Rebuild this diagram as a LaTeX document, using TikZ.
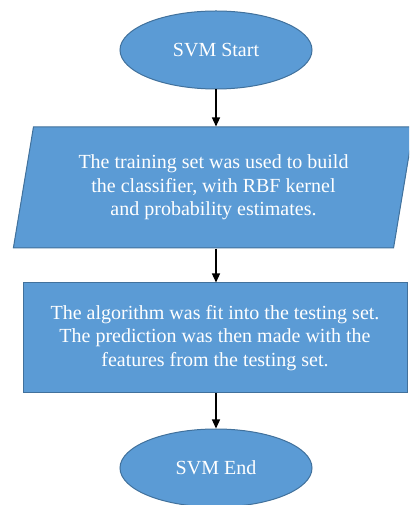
\documentclass[tikz,border=0pt]{standalone}
\usepackage{fontspec}
\setmainfont{Liberation Serif}
\usepackage{tikz}
\usetikzlibrary{positioning,calc,arrows.meta,shapes.geometric}
\definecolor{svmfill}{HTML}{5B9BD5}
\definecolor{svmline}{HTML}{41719C}
\tikzset{
  figfont/.style={font=\fontsize{20}{23.5}\selectfont, text=white},
  figbox/.style={draw=svmline, fill=svmfill, line width=1pt, align=center, inner sep=0pt},
  figoval/.style={figbox, ellipse, minimum width=192pt, minimum height=78pt},
  figslant/.style={figbox, trapezium, trapezium left angle=77, trapezium right angle=103,
    trapezium stretches=true, minimum width=401pt, minimum height=121pt},
  figrect/.style={figbox, rectangle, minimum width=384pt, minimum height=110pt},
  figarrow/.style={-{Triangle[length=9pt,width=8pt]}, line width=1.3pt, black},
}
\begin{document}
\begin{tikzpicture}[x=1pt,y=1pt,figfont]
  \useasboundingbox (0,0) rectangle (409,505);
  \clip (0,0) rectangle (409,505);
  % start / end ovals
  \node[figoval] (start) at (216,455) {SVM Start};
  \node[figoval] (end) at (216,37) {SVM End};

  % training step
  \node[figslant] (train) at (213.5,317.5)
    {The training set was used to build\\ the classifier, with RBF kernel\\ and probability estimates.};

  % testing step
  \node[figrect] (test) at (215,167)
    {The algorithm was fit into the testing set.\\ The prediction was then made with the\\ features from the testing set.};

  % connectors
  \draw[figarrow] (start.south) -- (start.south |- train.north);
  \draw[figarrow] (start.south |- train.south) -- (start.south |- test.north);
  \draw[figarrow] (start.south |- test.south) -- (end.north);
\end{tikzpicture}
\end{document}
